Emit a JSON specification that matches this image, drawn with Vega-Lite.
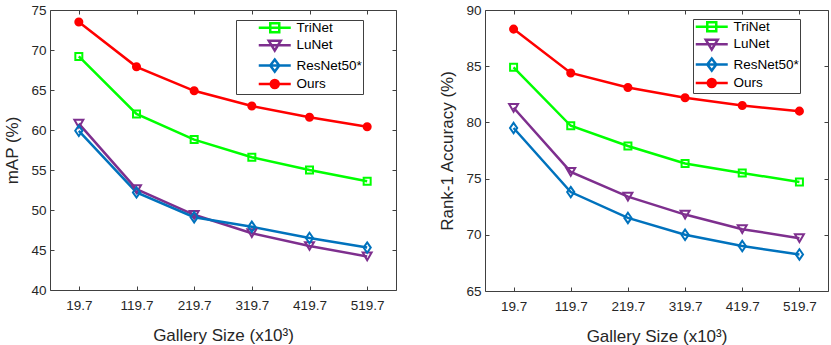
{
  "$schema": "https://vega.github.io/schema/vega-lite/v6.json",
  "padding": {"left": 3, "top": 2, "right": 6, "bottom": 2},
  "spacing": 89,
  "bounds": "flush",
  "config": {
    "font": "Liberation Sans",
    "view": {"stroke": "#404040", "strokeWidth": 1},
    "axis": {"labelFontSize": 13.5, "titleFontSize": 17, "labelColor": "#262626", "titleColor": "#262626", "titleFontWeight": "normal", "tickColor": "#404040", "grid": false, "domain": false, "tickSize": -4, "labelFont": "Liberation Sans", "titleFont": "Liberation Sans"},
    "legend": {"labelFontSize": 13.5, "labelColor": "#000000", "labelFont": "Liberation Sans", "strokeColor": "#404040", "fillColor": "#ffffff", "padding": 1, "rowPadding": -2.6, "symbolSize": 100, "symbolStrokeWidth": 2.5}
  },
  "datasets": {
    "map": [
      {"model": "TriNet", "size": 19.7, "value": 69.2},
      {"model": "TriNet", "size": 119.7, "value": 62.0},
      {"model": "TriNet", "size": 219.7, "value": 58.8},
      {"model": "TriNet", "size": 319.7, "value": 56.6},
      {"model": "TriNet", "size": 419.7, "value": 55.0},
      {"model": "TriNet", "size": 519.7, "value": 53.6},
      {"model": "LuNet", "size": 19.7, "value": 60.8},
      {"model": "LuNet", "size": 119.7, "value": 52.6},
      {"model": "LuNet", "size": 219.7, "value": 49.4},
      {"model": "LuNet", "size": 319.7, "value": 47.1},
      {"model": "LuNet", "size": 419.7, "value": 45.5},
      {"model": "LuNet", "size": 519.7, "value": 44.2},
      {"model": "ResNet50*", "size": 19.7, "value": 59.9},
      {"model": "ResNet50*", "size": 119.7, "value": 52.2},
      {"model": "ResNet50*", "size": 219.7, "value": 49.1},
      {"model": "ResNet50*", "size": 319.7, "value": 47.9},
      {"model": "ResNet50*", "size": 419.7, "value": 46.5},
      {"model": "ResNet50*", "size": 519.7, "value": 45.3},
      {"model": "Ours", "size": 19.7, "value": 73.5},
      {"model": "Ours", "size": 119.7, "value": 67.9},
      {"model": "Ours", "size": 219.7, "value": 64.9},
      {"model": "Ours", "size": 319.7, "value": 63.0},
      {"model": "Ours", "size": 419.7, "value": 61.6},
      {"model": "Ours", "size": 519.7, "value": 60.4}
    ],
    "rank1": [
      {"model": "TriNet", "size": 19.7, "value": 84.9},
      {"model": "TriNet", "size": 119.7, "value": 79.7},
      {"model": "TriNet", "size": 219.7, "value": 77.9},
      {"model": "TriNet", "size": 319.7, "value": 76.35},
      {"model": "TriNet", "size": 419.7, "value": 75.5},
      {"model": "TriNet", "size": 519.7, "value": 74.7},
      {"model": "LuNet", "size": 19.7, "value": 81.3},
      {"model": "LuNet", "size": 119.7, "value": 75.6},
      {"model": "LuNet", "size": 219.7, "value": 73.4},
      {"model": "LuNet", "size": 319.7, "value": 71.8},
      {"model": "LuNet", "size": 419.7, "value": 70.5},
      {"model": "LuNet", "size": 519.7, "value": 69.7},
      {"model": "ResNet50*", "size": 19.7, "value": 79.5},
      {"model": "ResNet50*", "size": 119.7, "value": 73.8},
      {"model": "ResNet50*", "size": 219.7, "value": 71.5},
      {"model": "ResNet50*", "size": 319.7, "value": 70.0},
      {"model": "ResNet50*", "size": 419.7, "value": 69.0},
      {"model": "ResNet50*", "size": 519.7, "value": 68.25},
      {"model": "Ours", "size": 19.7, "value": 88.3},
      {"model": "Ours", "size": 119.7, "value": 84.4},
      {"model": "Ours", "size": 219.7, "value": 83.1},
      {"model": "Ours", "size": 319.7, "value": 82.2},
      {"model": "Ours", "size": 419.7, "value": 81.5},
      {"model": "Ours", "size": 519.7, "value": 81.0}
    ]
  },
  "resolve": {
    "scale": {"x": "independent", "y": "independent", "color": "independent"},
    "legend": {"color": "independent"},
    "axis": {"x": "independent", "y": "independent"}
  },
  "hconcat": [
    {
      "width": 346,
      "height": 280,
      "data": {"name": "map"},
      "encoding": {
        "x": {"field": "size", "type": "quantitative", "scale": {"domain": [-30.3, 569.7], "nice": false, "zero": false}, "axis": null},
        "y": {"field": "value", "type": "quantitative", "scale": {"domain": [40, 75], "nice": false, "zero": false}, "axis": null}
      },
      "layer": [
        {
          "mark": {"type": "line", "strokeWidth": 2.5},
          "encoding": {
            "x": {"field": "size", "type": "quantitative",
                  "axis": {"orient": "bottom", "values": [19.7, 119.7, 219.7, 319.7, 419.7, 519.7], "format": ".1f", "title": "Gallery Size (x10³)", "labelPadding": 12, "titlePadding": 16}},
            "y": {"field": "value", "type": "quantitative",
                  "axis": {"orient": "left", "values": [40, 45, 50, 55, 60, 65, 70, 75], "title": "mAP (%)", "labelPadding": 8, "titlePadding": 9}},
            "color": {"field": "model", "type": "nominal",
                       "scale": {"domain": ["TriNet", "LuNet", "ResNet50*", "Ours"], "range": ["#00ff00", "#7e2f8e", "#0072bd", "#ff0000"]},
                       "legend": {"title": null, "orient": "none", "legendX": 186, "legendY": 10, "symbolOffset": 31, "labelOffset": 15,
                                  "encode": {
                                    "symbols": {"update": {
                                    "shape": {"signal": "datum.value === 'TriNet' ? 'M-3.2,0H3.2M-0.9,-0.9H0.9V0.9H-0.9Z' : datum.value === 'LuNet' ? 'M-3.2,0H3.2M-1.2,-0.9L1.2,-0.9L0,1.1Z' : datum.value === 'ResNet50*' ? 'M-3.2,0H3.2M0,-1.2L0.9,0L0,1.2L-0.9,0Z' : 'M-3.2,0H3.2M-0.8,0A0.8,0.8 0 1,0 0.8,0A0.8,0.8 0 1,0 -0.8,0Z'"},
                                    "fill": {"signal": "datum.value === 'Ours' ? '#ff0000' : 'transparent'"},
                                    "stroke": {"signal": "datum.value === 'TriNet' ? '#00ff00' : datum.value === 'LuNet' ? '#7e2f8e' : datum.value === 'ResNet50*' ? '#0072bd' : '#ff0000'"},
                                    "strokeWidth": {"value": 2.5},
                                    "opacity": {"value": 1}
                                  }}}}}
          }
        },
        {
          "transform": [{"filter": "datum.model === 'TriNet'"}],
          "mark": {"type": "point", "shape": "square", "size": 49, "stroke": "#00ff00", "fill": "transparent", "strokeWidth": 2, "opacity": 1},
          "encoding": {
            "x": {"field": "size", "type": "quantitative", "axis": {"orient": "top", "values": [19.7, 119.7, 219.7, 319.7, 419.7, 519.7], "labels": false, "title": null}},
            "y": {"field": "value", "type": "quantitative", "axis": {"orient": "right", "values": [40, 45, 50, 55, 60, 65, 70, 75], "labels": false, "title": null}}
          }
        },
        {
          "transform": [{"filter": "datum.model === 'LuNet'"}],
          "mark": {"type": "point", "shape": "triangle-down", "size": 80, "stroke": "#7e2f8e", "fill": "transparent", "strokeWidth": 2, "opacity": 1}
        },
        {
          "transform": [{"filter": "datum.model === 'ResNet50*'"}],
          "mark": {"type": "point", "shape": "M0,-1.3L0.9,0L0,1.3L-0.9,0Z", "size": 64, "stroke": "#0072bd", "fill": "transparent", "strokeWidth": 2, "opacity": 1}
        },
        {
          "transform": [{"filter": "datum.model === 'Ours'"}],
          "mark": {"type": "point", "shape": "circle", "size": 50, "stroke": "#ff0000", "fill": "#ff0000", "strokeWidth": 2, "opacity": 1}
        }
      ],
      "resolve": {"axis": {"x": "independent", "y": "independent"}}
    },
    {
      "width": 343,
      "height": 281,
      "data": {"name": "rank1"},
      "encoding": {
        "x": {"field": "size", "type": "quantitative", "scale": {"domain": [-30.3, 569.7], "nice": false, "zero": false}, "axis": null},
        "y": {"field": "value", "type": "quantitative", "scale": {"domain": [65, 90], "nice": false, "zero": false}, "axis": null}
      },
      "layer": [
        {
          "mark": {"type": "line", "strokeWidth": 2.5},
          "encoding": {
            "x": {"field": "size", "type": "quantitative",
                  "axis": {"orient": "bottom", "values": [19.7, 119.7, 219.7, 319.7, 419.7, 519.7], "format": ".1f", "title": "Gallery Size (x10³)", "labelPadding": 12, "titlePadding": 16}},
            "y": {"field": "value", "type": "quantitative",
                  "axis": {"orient": "left", "values": [65, 70, 75, 80, 85, 90], "title": "Rank-1 Accuracy (%)", "labelPadding": 8, "titlePadding": 9}},
            "color": {"field": "model", "type": "nominal",
                       "scale": {"domain": ["TriNet", "LuNet", "ResNet50*", "Ours"], "range": ["#00ff00", "#7e2f8e", "#0072bd", "#ff0000"]},
                       "legend": {"title": null, "orient": "none", "legendX": 208, "legendY": 9, "symbolOffset": 11, "labelOffset": 15,
                                  "encode": {
                                    "symbols": {"update": {
                                    "shape": {"signal": "datum.value === 'TriNet' ? 'M-3.2,0H3.2M-0.9,-0.9H0.9V0.9H-0.9Z' : datum.value === 'LuNet' ? 'M-3.2,0H3.2M-1.2,-0.9L1.2,-0.9L0,1.1Z' : datum.value === 'ResNet50*' ? 'M-3.2,0H3.2M0,-1.2L0.9,0L0,1.2L-0.9,0Z' : 'M-3.2,0H3.2M-0.8,0A0.8,0.8 0 1,0 0.8,0A0.8,0.8 0 1,0 -0.8,0Z'"},
                                    "fill": {"signal": "datum.value === 'Ours' ? '#ff0000' : 'transparent'"},
                                    "stroke": {"signal": "datum.value === 'TriNet' ? '#00ff00' : datum.value === 'LuNet' ? '#7e2f8e' : datum.value === 'ResNet50*' ? '#0072bd' : '#ff0000'"},
                                    "strokeWidth": {"value": 2.5},
                                    "opacity": {"value": 1}
                                  }}}}}
          }
        },
        {
          "transform": [{"filter": "datum.model === 'TriNet'"}],
          "mark": {"type": "point", "shape": "square", "size": 49, "stroke": "#00ff00", "fill": "transparent", "strokeWidth": 2, "opacity": 1},
          "encoding": {
            "x": {"field": "size", "type": "quantitative", "axis": {"orient": "top", "values": [19.7, 119.7, 219.7, 319.7, 419.7, 519.7], "labels": false, "title": null}},
            "y": {"field": "value", "type": "quantitative", "axis": {"orient": "right", "values": [65, 70, 75, 80, 85, 90], "labels": false, "title": null}}
          }
        },
        {
          "transform": [{"filter": "datum.model === 'LuNet'"}],
          "mark": {"type": "point", "shape": "triangle-down", "size": 80, "stroke": "#7e2f8e", "fill": "transparent", "strokeWidth": 2, "opacity": 1}
        },
        {
          "transform": [{"filter": "datum.model === 'ResNet50*'"}],
          "mark": {"type": "point", "shape": "M0,-1.3L0.9,0L0,1.3L-0.9,0Z", "size": 64, "stroke": "#0072bd", "fill": "transparent", "strokeWidth": 2, "opacity": 1}
        },
        {
          "transform": [{"filter": "datum.model === 'Ours'"}],
          "mark": {"type": "point", "shape": "circle", "size": 50, "stroke": "#ff0000", "fill": "#ff0000", "strokeWidth": 2, "opacity": 1}
        }
      ],
      "resolve": {"axis": {"x": "independent", "y": "independent"}}
    }
  ]
}
